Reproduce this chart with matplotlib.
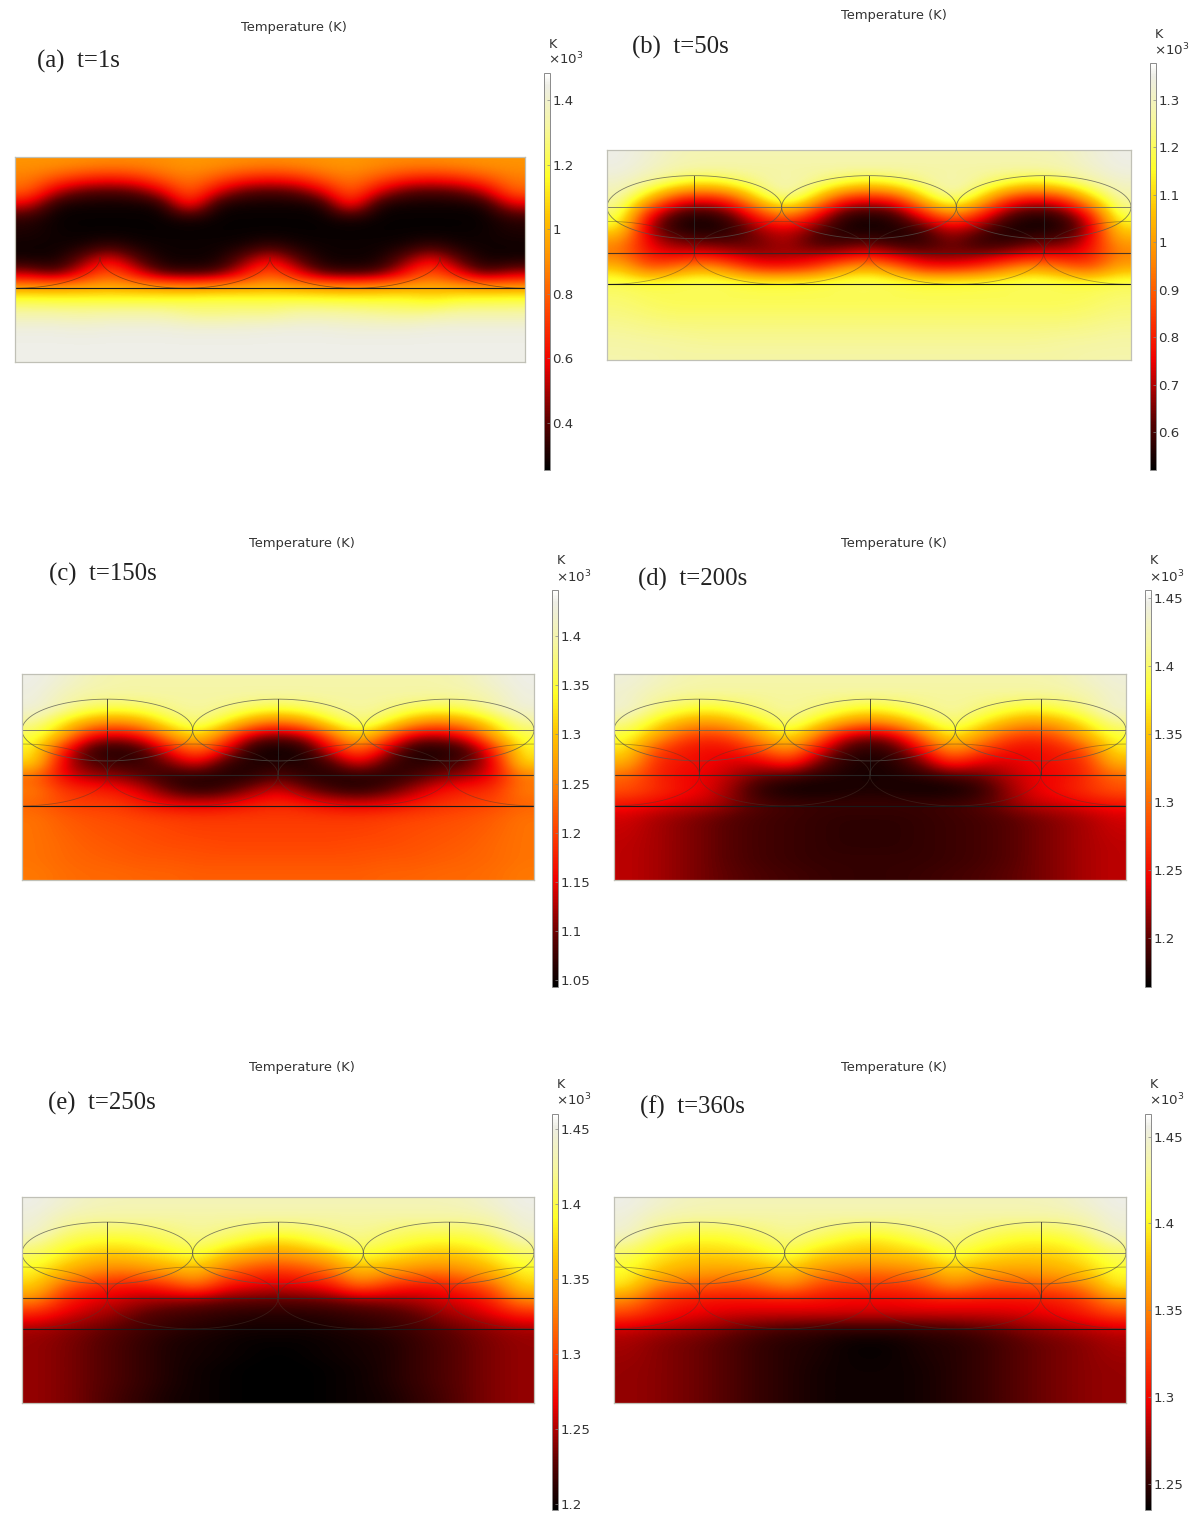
import numpy as np
import matplotlib
matplotlib.use("Agg")
import matplotlib.pyplot as plt
from matplotlib.colors import LinearSegmentedColormap

W, H = 1189, 1520

# Field readings: percent of each panel's colour-bar span, 15 depths x 19 positions across
field_a = [
 [54,54,53,52,52,53,55,54,53,52,53,54,55,53,52,52,53,54,54],
 [50,43,36,33,36,45,50,44,36,33,36,45,50,44,36,33,36,43,50],
 [45,22,12,10,12,26,46,26,12,10,12,26,46,26,12,10,12,22,45],
 [25, 3, 2, 2, 2, 3,36, 3, 2, 2, 2, 3,36, 3, 2, 2, 2, 3,25],
 [ 6, 1, 1, 1, 1, 1, 4, 1, 1, 1, 1, 1, 4, 1, 1, 1, 1, 1, 6],
 [ 4, 2, 1, 1, 1, 1, 1, 1, 1, 1, 1, 1, 1, 1, 1, 1, 1, 2, 4],
 [ 2, 2, 3, 8, 3, 2, 2, 2, 3, 8, 3, 2, 2, 2, 3, 8, 3, 2, 2],
 [ 3, 2,14,30,12, 2, 2, 2,14,30,12, 2, 2, 2,14,30,12, 2, 3],
 [20,10,28,45,28,10, 8,10,28,45,28,10, 8,10,28,45,28,10,20],
 [56,56,57,58,57,56,54,56,57,58,57,56,54,56,57,58,57,56,56],
 [78,77,77,77,77,77,78,79,78,78,78,77,77,76,77,72,77,77,78],
 [88,88,87,88,88,88,84,83,85,84,88,88,87,86,84,86,88,88,88],
 [96,96,95,96,96,96,95,95,95,96,96,96,95,95,95,96,96,96,96],
 [97,97,97,97,97,97,97,97,97,97,97,97,97,97,97,97,97,97,97],
 [97,97,97,97,97,97,97,97,97,97,97,97,97,97,97,97,97,97,97],
]
field_b = [
 [97,94,90,89,89,89,89,89,89,89,89,89,89,89,89,89,90,94,97],
 [96,92,88,87,87,87,87,87,87,87,87,87,87,87,87,87,88,92,96],
 [92,85,75,68,75,85,90,85,75,68,75,85,90,85,75,68,75,85,92],
 [88,65,35,30,38,70,88,68,36,30,36,68,88,70,38,30,35,65,88],
 [82,32,10,6,14,38,60,35,10,6,10,35,60,38,14,6,10,32,82],
 [74,18,3,1,4,22,28,18,3,1,3,12,28,18,3,1,3,18,70],
 [55,25,14,11,10,13,22,7,7,10,5,5,16,5,5,11,11,25,58],
 [48,30,26,28,22,18,18,20,22,28,20,16,14,16,20,26,26,30,50],
 [65,42,50,60,48,33,33,38,55,62,50,33,33,38,50,60,50,40,60],
 [79,77,79,81,79,77,77,78,80,81,79,77,77,78,79,81,79,77,79],
 [81,79,78,78,78,78,78,78,78,78,78,78,78,78,78,78,78,79,81],
 [83,81,80,80,80,80,80,80,80,80,80,80,80,80,80,80,80,81,83],
 [85,84,83,83,83,83,83,83,83,83,83,83,83,83,83,83,83,84,85],
 [87,86,86,85,85,85,85,85,85,85,85,85,85,85,85,85,86,86,87],
 [88,88,87,87,87,87,87,87,87,87,87,87,87,87,87,87,87,88,88],
]
field_c = [
 [97,94,90,88,88,88,88,88,88,88,88,88,88,88,88,88,90,94,97],
 [96,90,87,87,87,87,87,87,87,87,87,87,87,87,87,87,87,90,96],
 [95,88,80,78,80,85,87,85,80,77,80,85,87,85,80,78,80,88,95],
 [86,72,58,52,60,76,84,74,56,47,56,74,84,76,58,50,58,72,86],
 [78,60,28,22,30,55,70,46,20,13,20,45,70,46,22,20,28,60,78],
 [72,32,7,3,8,30,50,28,3,1,3,28,48,24,3,3,7,32,72],
 [68,24,11,8,7,15,27,7,4,5,4,9,27,9,5,7,11,24,68],
 [45,28,20,18,12,5,4,4,5,12,6,4,4,5,9,16,20,28,48],
 [50,38,34,32,24,12,6,9,18,26,16,9,6,11,20,30,34,36,50],
 [45,40,38,38,32,28,26,28,32,35,32,28,26,28,32,36,38,40,45],
 [48,44,42,41,40,39,38,38,38,38,38,38,38,39,40,41,42,44,48],
 [48,45,43,42,41,40,39,39,39,39,39,39,39,40,41,42,43,45,48],
 [48,46,44,43,42,41,41,40,40,40,40,40,41,41,42,43,44,46,48],
 [48,46,45,44,43,43,42,42,42,42,42,42,42,43,43,44,45,46,48],
 [49,47,46,46,45,45,44,44,44,44,44,44,44,45,45,46,46,47,49],
]
# d, e, f are mirror-symmetric: left edge to centre (10 positions)
field_d = [
 [95,92,89,88,88,88,88,88,88,88],
 [93,88,86,86,86,86,86,86,86,86],
 [94,84,78,74,78,84,87,84,78,74],
 [85,72,60,55,62,74,84,72,58,50],
 [76,60,42,36,42,58,72,50,24,16],
 [70,40,32,28,30,42,56,30,10,4],
 [60,35,30,28,24,24,34,15,5,3],
 [45,34,28,26,20,12,8,5,4,3],
 [42,36,30,26,16,5,2,2,3,4],
 [30,27,24,22,16,11,9,8,8,8],
 [24,20,17,14,11,9,8,7,6,6],
 [23,20,17,14,11,9,8,7,6,6],
 [22,20,17,14,11,9,8,7,6,6],
 [22,20,17,14,11,9,8,7,7,7],
 [22,20,17,14,12,10,9,8,7,7],
]
field_e = [
 [97,94,91,90,90,90,90,90,90,90],
 [95,89,87,87,87,87,87,87,87,87],
 [94,84,80,80,80,83,86,84,80,78],
 [85,76,72,70,73,77,82,75,69,64],
 [78,70,63,61,64,68,73,60,54,50],
 [72,60,52,47,50,55,62,46,38,34],
 [66,44,36,30,30,36,46,30,26,24],
 [52,34,26,24,20,18,16,14,13,12],
 [34,26,22,18,12,9,8,6,5,5],
 [20,18,15,12,9,7,5,4,3,3],
 [18,16,13,10,7,4,3,2,1,1],
 [18,16,13,10,7,4,3,2,1,0],
 [18,16,13,10,7,4,2,1,0,0],
 [18,16,13,10,7,4,2,1,0,0],
 [18,16,13,9,6,3,2,1,0,0],
]
field_f = [
 [97,94,91,90,90,90,90,90,90,90],
 [95,89,87,87,87,87,87,87,87,87],
 [94,84,79,78,79,83,86,84,79,77],
 [85,76,71,70,72,76,82,74,70,66],
 [78,70,65,64,65,68,74,64,62,60],
 [74,64,58,55,55,58,64,52,48,46],
 [70,50,44,42,40,44,52,40,36,36],
 [52,38,32,30,30,30,30,30,28,28],
 [40,32,28,26,24,24,24,24,24,24],
 [24,22,20,18,15,12,10,9,8,8],
 [20,17,15,13,10,7,5,4,2,1],
 [19,17,15,13,10,7,5,4,2,1],
 [18,17,15,13,10,7,5,3,2,2],
 [18,17,15,13,10,7,5,3,2,2],
 [18,17,15,13,10,7,5,3,2,2],
]

labels = ["(a)  t=1s", "(b)  t=50s", "(c)  t=150s", "(d)  t=200s", "(e)  t=250s", "(f)  t=360s"]
scale_min = [0.254, 0.520, 1.043, 1.164, 1.196, 1.235]
scale_max = [1.484, 1.378, 1.447, 1.456, 1.460, 1.463]
ticks_a = [0.4, 0.6, 0.8, 1.0, 1.2, 1.4]
ticks_b = [0.6, 0.7, 0.8, 0.9, 1.0, 1.1, 1.2, 1.3]
ticks_c = [1.05, 1.1, 1.15, 1.2, 1.25, 1.3, 1.35, 1.4]
ticks_d = [1.2, 1.25, 1.3, 1.35, 1.4, 1.45]
ticks_e = [1.2, 1.25, 1.3, 1.35, 1.4, 1.45]
ticks_f = [1.25, 1.3, 1.35, 1.4, 1.45]

# Layout in pixels: (left, top, right, bottom)
map_box = [(15,157,525,362), (607,150,1131,360), (22,674,534,880),
           (614,674,1126,880), (22,1197,534,1403), (614,1197,1126,1403)]
bar_box = [(544,73,550,470), (1150,63,1156,470), (552,590,558,987),
           (1145,590,1151,987), (552,1114,558,1510), (1145,1114,1151,1510)]
title_xy = [(294,27), (894,16), (302,543), (894,543), (302,1067), (894,1067)]
label_xy = [(37,61), (632,47), (49,574), (638,579), (48,1103), (640,1107)]
unit_xy = [(549,45,59), (1155,34,50), (557,561,577), (1150,561,577), (557,1085,1100), (1150,1085,1100)]

# Structure of the model, in lobe widths across and fractions of height down
upper_centres = [0.5, 1.5, 2.5]
lower_centres = [0.0, 1.0, 2.0, 3.0]
upper_depth, lower_depth = 0.272, 0.49
semi_w, upper_semi_h, lower_semi_h = 0.5, 0.15, 0.15
base_depth = 0.64

heat = LinearSegmentedColormap.from_list("heat", [
    (0.00, "#000000"), (0.12, "#5a0000"), (0.27, "#f00000"), (0.40, "#ff4500"),
    (0.52, "#ff8a00"), (0.64, "#ffc400"), (0.74, "#ffff28"), (0.87, "#f6f6a4"),
    (0.97, "#eeeee6"), (1.00, "#ffffff")])

def px_rect(box):
    l, t, r, b = box
    return [l / W, 1 - b / H, (r - l) / W, (b - t) / H]

def ellipse(ax, cx, cy, ry, start, stop, **kw):
    t = np.linspace(start, stop, 160)
    ax.plot(cx + semi_w * np.cos(t), cy + ry * np.sin(t), **kw)

def as_kelvin(field, lo, hi):
    f = np.asarray(field, dtype=float)
    if f.shape[1] == 10:
        f = np.hstack([f, f[:, -2::-1]])
    return lo + f / 100 * (hi - lo)

fig = plt.figure(figsize=(W / 100, H / 100), dpi=100, facecolor="white")
fields = [field_a, field_b, field_c, field_d, field_e, field_f]
tick_sets = [ticks_a, ticks_b, ticks_c, ticks_d, ticks_e, ticks_f]

for i in range(6):
    lo, hi = scale_min[i], scale_max[i]
    ax = fig.add_axes(px_rect(map_box[i]))
    im = ax.imshow(as_kelvin(fields[i], lo, hi), cmap=heat, vmin=lo, vmax=hi,
                   extent=(0, 3, 1, 0), aspect="auto", interpolation="bicubic")
    if i == 0:
        for c in lower_centres:
            ellipse(ax, c, lower_depth, lower_semi_h, 0, np.pi, color="#5a2a10", lw=0.6, alpha=0.6)
    else:
        for c in upper_centres:
            ellipse(ax, c, upper_depth, upper_semi_h, 0, 2 * np.pi, color="#555550", lw=0.6, alpha=0.75)
            ax.plot([c, c], [upper_depth - upper_semi_h, lower_depth], color="#2a2a2a", lw=0.7, alpha=0.8)
        for c in lower_centres:
            ellipse(ax, c, lower_depth, lower_semi_h, 0, 2 * np.pi, color="#4a3a30", lw=0.6, alpha=0.45)
        ax.plot([0, 3], [upper_depth] * 2, color="#666660", lw=0.7, alpha=0.8)
        ax.plot([0, 3], [lower_depth] * 2, color="#2a2a2a", lw=0.8, alpha=0.85)
    ax.plot([0, 3], [base_depth] * 2, color="#1a1a1a", lw=0.8)
    ax.set_xlim(0, 3)
    ax.set_ylim(1, 0)
    ax.set_xticks([])
    ax.set_yticks([])
    for s in ax.spines.values():
        s.set_color("#c0c0b6")
        s.set_linewidth(0.9)

    cax = fig.add_axes(px_rect(bar_box[i]))
    cb = fig.colorbar(im, cax=cax)
    cb.set_ticks(tick_sets[i])
    cb.set_ticklabels([f"{v:g}" for v in tick_sets[i]])
    cb.ax.tick_params(length=2, width=0.5, pad=1.5, labelsize=9.6, direction="in",
                      color="#888888", labelcolor="#333333")
    cb.outline.set_edgecolor("#8a8a8a")
    cb.outline.set_linewidth(0.7)

    tx, ty = title_xy[i]
    fig.text(tx / W, 1 - ty / H, "Temperature (K)", ha="center", va="center",
             fontsize=9.4, color="#333333", family="DejaVu Sans")
    lx, ly = label_xy[i]
    fig.text(lx / W, 1 - ly / H, labels[i], ha="left", va="center",
             fontsize=17.8, color="#222222", family="Liberation Serif")
    ux, uy1, uy2 = unit_xy[i]
    fig.text(ux / W, 1 - uy1 / H, "K", ha="left", va="center", fontsize=9.2, color="#333333")
    fig.text((ux - 1) / W, 1 - uy2 / H, "×10$^{3}$", ha="left", va="center", fontsize=9.6, color="#333333")

fig.savefig("out.png", dpi=100, facecolor="white")
